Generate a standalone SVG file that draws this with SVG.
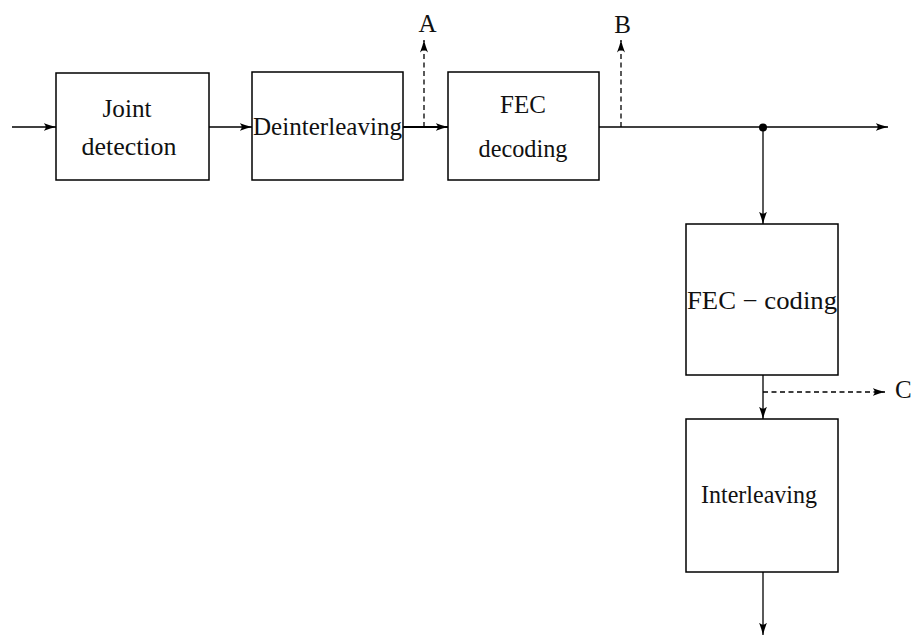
<svg xmlns="http://www.w3.org/2000/svg" width="915" height="636" viewBox="0 0 915 636">
<style>
.box{fill:#fff;stroke:#000;stroke-width:1.5}
.ln{fill:none;stroke:#000;stroke-width:1.3}
.dash{fill:none;stroke:#000;stroke-width:1.3;stroke-dasharray:5 3.5}
text{font-family:"Liberation Serif","DejaVu Serif",serif;font-size:25px;fill:#111}
</style>
<defs>
<marker id="ah" viewBox="0 0 13 9" refX="12.5" refY="4.5" markerWidth="13" markerHeight="9" markerUnits="userSpaceOnUse" orient="auto">
<path d="M0,0.5 Q7,3.2 12.5,4.5 Q7,5.8 0,8.5 Q4.5,4.5 0,0.5 z" fill="#000"/>
</marker>
</defs>
<rect width="915" height="636" fill="#fff"/>
<g id="connectors">
<line class="ln" x1="12" y1="127" x2="56" y2="127" marker-end="url(#ah)"/>
<line class="ln" x1="209" y1="127" x2="252" y2="127" marker-end="url(#ah)"/>
<line class="ln" x1="403" y1="127" x2="448" y2="127" marker-end="url(#ah)" style="stroke-width:1.8"/>
<line class="ln" x1="599" y1="127" x2="888" y2="127" marker-end="url(#ah)"/>
<circle cx="763" cy="127.5" r="4" fill="#000"/>
<line class="ln" x1="763" y1="127" x2="763" y2="224" marker-end="url(#ah)"/>
<line class="ln" x1="763" y1="375" x2="763" y2="419" marker-end="url(#ah)"/>
<line class="ln" x1="763" y1="572" x2="763" y2="635" marker-end="url(#ah)"/>
<line class="dash" x1="424" y1="127" x2="424" y2="40" marker-end="url(#ah)"/>
<line class="dash" x1="621" y1="127" x2="621" y2="40" marker-end="url(#ah)"/>
<line class="dash" x1="763" y1="392" x2="885" y2="392" marker-end="url(#ah)"/>
<text x="427.5" y="32" text-anchor="middle">A</text>
<text x="622.5" y="33" text-anchor="middle">B</text>
<text x="895" y="398">C</text>
</g>
<g id="joint-detection">
<rect class="box" x="56" y="73" width="153" height="107"/>
<text x="127" y="116.5" text-anchor="middle" textLength="49" lengthAdjust="spacingAndGlyphs">Joint</text>
<text x="129" y="155" text-anchor="middle" textLength="95" lengthAdjust="spacingAndGlyphs">detection</text>
</g>
<g id="deinterleaving">
<rect class="box" x="252" y="72" width="151" height="108"/>
<text x="253" y="135" textLength="149" lengthAdjust="spacingAndGlyphs">Deinterleaving</text>
</g>
<g id="fec-decoding">
<rect class="box" x="448" y="72" width="151" height="108"/>
<text x="523" y="113" text-anchor="middle">FEC</text>
<text x="523" y="157" text-anchor="middle" textLength="89" lengthAdjust="spacingAndGlyphs">decoding</text>
</g>
<g id="fec-coding">
<rect class="box" x="686" y="224" width="152" height="151"/>
<text x="687" y="309" textLength="150" lengthAdjust="spacingAndGlyphs">FEC − coding</text>
</g>
<g id="interleaving">
<rect class="box" x="686" y="419" width="152" height="153"/>
<text x="759" y="502.5" text-anchor="middle" textLength="116" lengthAdjust="spacingAndGlyphs">Interleaving</text>
</g>
</svg>
